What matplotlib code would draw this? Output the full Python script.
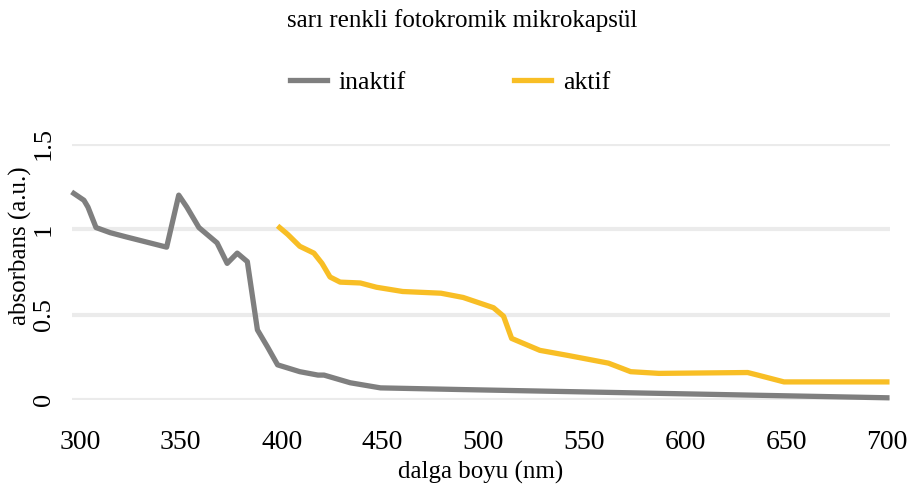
import matplotlib.pyplot as plt

# absorbans spektrumlari - sari renkli fotokromik mikrokapsul
inaktif_nm = [297, 302, 304, 308, 315, 323, 333, 343, 349, 353, 359, 368, 373,
              378, 383, 388, 393, 398, 409, 418, 421, 434, 449, 490, 600, 700]
inaktif_abs = [1.21, 1.17, 1.13, 1.01, 0.98, 0.955, 0.925, 0.895, 1.20, 1.13,
               1.01, 0.92, 0.80, 0.86, 0.81, 0.41, 0.31, 0.205, 0.165, 0.145,
               0.145, 0.10, 0.07, 0.06, 0.035, 0.012]

aktif_nm = [399, 403, 409, 416, 420, 424, 429, 439, 447, 460, 479, 490, 505,
            510, 514, 528, 542, 562, 573, 587, 631, 636, 649, 700]
aktif_abs = [1.01, 0.97, 0.90, 0.86, 0.80, 0.72, 0.69, 0.685, 0.66, 0.635,
             0.625, 0.60, 0.54, 0.49, 0.36, 0.29, 0.26, 0.215, 0.165, 0.155,
             0.16, 0.145, 0.105, 0.105]

x_ticks = [300, 350, 400, 450, 500, 550, 600, 650, 700]
y_ticks = [0, 0.5, 1, 1.5]
y_tick_labels = ['0', '0.5', '1', '1.5']

plt.rcParams['font.family'] = ['Liberation Serif', 'DejaVu Serif']

fig = plt.figure(figsize=(9.09, 4.93), dpi=100)
ax = fig.add_axes([0.079, 0.189, 0.900, 0.519])

ax.plot(inaktif_nm, inaktif_abs, color='#7f7f7f', lw=3.8, label='inaktif',
        solid_joinstyle='round', clip_on=False, zorder=3)
ax.plot(aktif_nm, aktif_abs, color='#f8be25', lw=3.8, label='aktif',
        solid_joinstyle='round', clip_on=False, zorder=3)

ax.set_xlim(296, 701.5)
ax.set_ylim(0, 1.5)
ax.set_xticks(x_ticks)
ax.set_yticks(y_ticks)
ax.set_yticklabels(y_tick_labels, rotation=90, va='center')
ax.tick_params(axis='x', length=0, labelsize=20, pad=22)
ax.tick_params(axis='y', length=0, labelsize=19, pad=12)

ax.grid(axis='y', color='#ebebeb', lw=3)
ax.set_axisbelow(True)
for s in ax.spines.values():
    s.set_visible(False)

ax.set_xlabel('dalga boyu (nm)', fontsize=18, labelpad=4)
fig.text(0.022, 0.501, 'absorbans (a.u.)', fontsize=18, rotation=90,
         ha='center', va='center')

fig.text(0.509, 0.958, 'sarı renkli fotokromik mikrokapsül', fontsize=18,
         ha='center', va='center')
fig.legend(loc='center', bbox_to_anchor=(0.495, 0.832), ncol=2, frameon=False,
           fontsize=18.5, handlelength=1.45, handletextpad=0.45, columnspacing=4.2)

fig.savefig('out.png', dpi=100, facecolor='white')
